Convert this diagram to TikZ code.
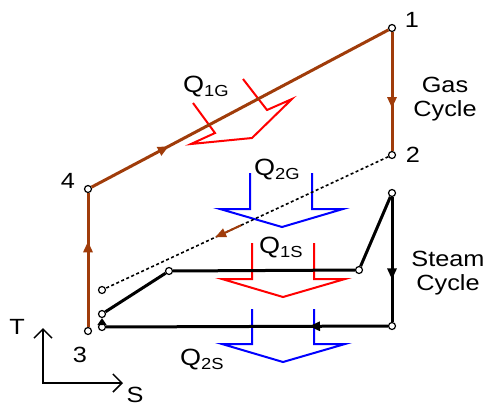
\documentclass[tikz,border=0pt]{standalone}
\usepackage{fontspec}
\setmainfont{Liberation Sans}[FakeStretch=1.15]
\usetikzlibrary{arrows.meta,decorations.markings,calc}
\definecolor{gasbrown}{RGB}{160,60,10}
\definecolor{qred}{RGB}{255,0,0}
\definecolor{qblue}{RGB}{0,0,255}
\newcommand{\qlab}[1]{Q\raisebox{-4pt}{\fontsize{16}{16}\selectfont #1}}
\begin{document}
\begin{tikzpicture}[x=1pt,y=-1pt,
  dot/.style={circle,draw=black,fill=white,line width=1.2pt,inner sep=0pt,minimum size=7pt},
  gasline/.style={draw=gasbrown,line width=3pt},
  steamline/.style={draw=black,line width=3pt,line join=round},
  midarrow/.style 2 args={postaction={decorate,decoration={markings,
     mark=at position #1 with {\arrow[#2]{Triangle[length=11pt,width=9pt]}}}}},
  qarrow/.style={draw=#1,line width=2pt,line join=miter},
  lbl/.style={font=\fontsize{22}{24}\selectfont,inner sep=0pt},
  qtext/.style={font=\fontsize{23.5}{24}\selectfont,inner sep=0pt,anchor=base west},
  axis/.style={line width=1.5pt,{Straight Barb[length=9pt,width=18pt]}-{Straight Barb[length=9pt,width=18pt]}}
]
\useasboundingbox (0,0) rectangle (486,407);

% heat-flow block arrows
\draw[qarrow=qred] (193,103) -- (215,133) -- (191,144) -- (252,138) -- (292,99) -- (267,110) -- (243,79);
\draw[qarrow=qblue] (250,173) -- (250,209) -- (220,209) -- (282,227) -- (343,209) -- (312,209) -- (312,173);
\draw[qarrow=qred] (252,243) -- (252,279) -- (222,279) -- (283,297) -- (345,279) -- (314,279) -- (314,243);
\draw[qarrow=qblue] (252,309) -- (252,344) -- (222,344) -- (283,362) -- (345,344) -- (314,344) -- (314,309);

% state points
\node[dot] (p1) at (392,28) {};
\node[dot] (p2) at (392,155) {};
\node[dot] (p3) at (88,331) {};
\node[dot] (p4) at (88,189) {};
\node[dot] (d) at (102,290) {};
\node[dot] (s1) at (102,314) {};
\node[dot] (s2) at (169,271) {};
\node[dot] (s3) at (359,270) {};
\node[dot] (s4) at (392,193) {};
\node[dot] (s5) at (392,326) {};
\node[dot] (s6) at (102,327) {};

% gas cycle
\draw[gasline,midarrow={0.64}{gasbrown}] (p1) -- (p2);
\draw[gasline,midarrow={0.26}{gasbrown}] (p4) -- (p1);
\draw[gasline,midarrow={0.64}{gasbrown}] (p3) -- (p4);
\draw[line width=1.6pt,dash pattern=on 3pt off 2.5pt] (p2) -- (d);
\draw[draw=gasbrown,line width=2pt,-{Triangle[length=11pt,width=9pt]}] ($(p2)!0.52!(d)$) -- ($(p2)!0.61!(d)$);

% steam cycle
\draw[steamline] (s1) -- (s2) -- (s3) -- (s4);
\draw[steamline,midarrow={0.66}{black}] (s4) -- (s5);
\draw[steamline,midarrow={0.28}{black}] (s5) -- (s6);
\draw[line width=1.5pt,-{Triangle[length=7pt,width=9pt]}] (s6) -- (s1);

% labels
\node[lbl] (l1) at (412,20) {1};
\node[lbl] (l2) at (413,155) {2};
\node[lbl] (l3) at (80,355) {3};
\node[lbl] (l4) at (68,181) {4};
\node[lbl,align=center] (gc) at (445,99) {Gas\\Cycle};
\node[lbl,align=center] (sc) at (448,273) {Steam\\Cycle};
\node[qtext] (q1g) at (183,92) {\qlab{1G}};
\node[qtext] (q2g) at (254,175) {\qlab{2G}};
\node[qtext] (q1s) at (259,253) {\qlab{1S}};
\node[qtext] (q2s) at (180,365) {\qlab{2S}};

% T-S axes
\coordinate (O) at (43,383);
\coordinate (Ty) at (43,328);
\coordinate (Sx) at (123,383);
\draw[axis] (Ty) -- (O) -- (Sx);
\node[lbl] (T) at (17,327) {T};
\node[lbl] (S) at (135,395) {S};
\end{tikzpicture}
\end{document}
